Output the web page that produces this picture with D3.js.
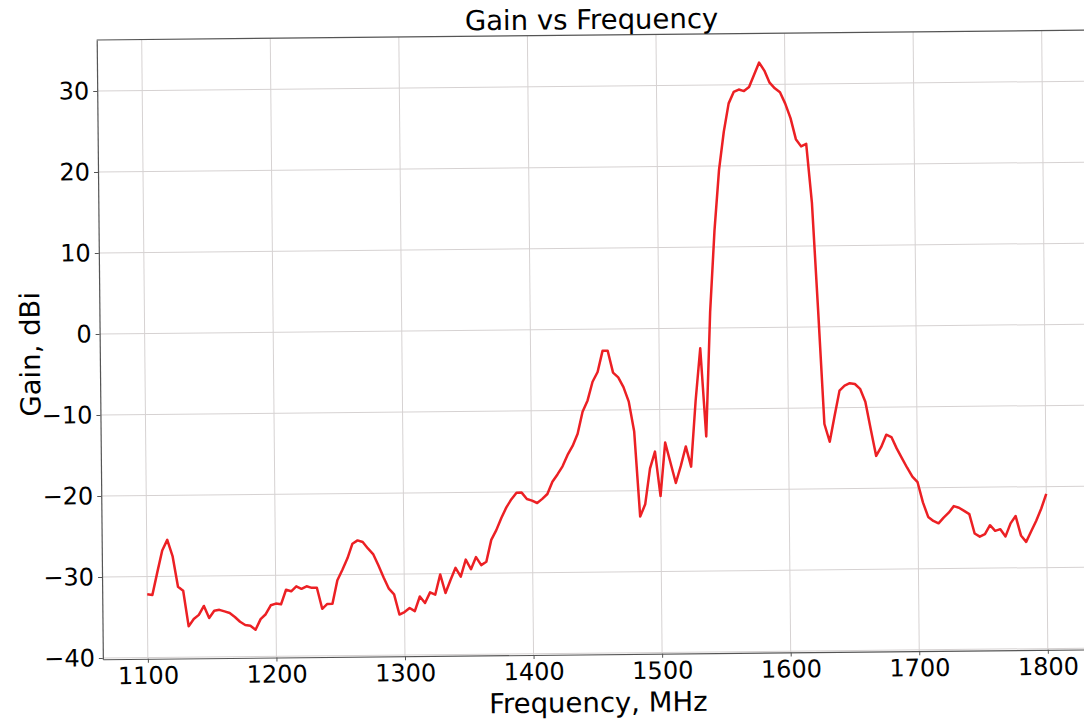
<!DOCTYPE html>
<html><head><meta charset="utf-8">
<script src="https://cdn.jsdelivr.net/npm/d3@7"></script>
<style>
body{margin:0;background:#fff}
svg{display:block}
text{font-family:"DejaVu Sans",sans-serif;fill:#000}
</style>
</head><body>
<svg id="chart" width="1084" height="721"></svg>
<script>
const frequencies = [
1100,1104,1108,1112,1116,1120,1124,1128,1132,1136,
1140,1144,1148,1152,1156,1160,1164,1168,1172,1176,
1180,1184,1188,1192,1196,1200,1204,1208,1212,1216,
1220,1224,1228,1232,1236,1240,1244,1248,1252,1256,
1260,1264,1268,1272,1276,1280,1284,1288,1292,1296,
1300,1304,1308,1312,1316,1320,1324,1328,1332,1336,
1340,1344,1348,1352,1356,1360,1364,1368,1372,1376,
1380,1384,1388,1392,1396,1400,1404,1408,1412,1416,
1420,1424,1428,1432,1436,1440,1444,1448,1452,1456,
1460,1464,1468,1472,1476,1480,1484,1488,1492,1496,
1500,1504,1508,1512,1516,1520,1524,1528,1532,1536,
1540,1544,1548,1552,1556,1560,1564,1568,1572,1576,
1580,1584,1588,1592,1596,1600,1604,1608,1612,1616,
1620,1624,1628,1632,1636,1640,1644,1648,1652,1656,
1660,1664,1668,1672,1676,1680,1684,1688,1692,1696,
1700,1704,1708,1712,1716,1720,1724,1728,1732,1736,
1740,1744,1748,1752,1756,1760,1764,1768,1772,1776,
1780,1784,1788,1792,1796,1800
];
const gainDbi = [
-32.2,-32.3,-29.5,-26.8,-25.5,-27.5,-31.3,-31.8,-36.2,-35.3,
-34.8,-33.7,-35.2,-34.3,-34.2,-34.4,-34.6,-35.1,-35.7,-36.1,
-36.2,-36.7,-35.4,-34.8,-33.7,-33.5,-33.6,-31.8,-32.0,-31.4,
-31.7,-31.4,-31.6,-31.6,-34.2,-33.6,-33.6,-30.7,-29.4,-28.0,
-26.2,-25.8,-26.0,-26.8,-27.5,-28.9,-30.4,-31.8,-32.5,-35.0,
-34.7,-34.2,-34.6,-32.8,-33.6,-32.3,-32.6,-30.1,-32.4,-30.8,
-29.3,-30.4,-28.3,-29.5,-28.0,-29.0,-28.6,-25.9,-24.7,-23.2,
-21.9,-20.9,-20.1,-20.1,-20.9,-21.1,-21.4,-20.9,-20.3,-18.8,
-17.9,-16.9,-15.5,-14.4,-12.9,-10.2,-8.8,-6.5,-5.3,-2.7,
-2.7,-5.4,-6.0,-7.2,-9.0,-12.7,-23.2,-21.7,-17.3,-15.2,
-20.7,-14.1,-16.6,-19.1,-17.0,-14.6,-17.1,-9.0,-2.5,-13.4,
2.0,12.0,19.5,24.2,27.7,29.1,29.4,29.2,29.7,31.2,
32.7,31.7,30.2,29.5,29.0,27.6,25.8,23.2,22.3,22.6,
15.3,2.0,-12.0,-14.2,-11.0,-7.9,-7.3,-7.0,-7.1,-7.7,
-9.3,-12.7,-16.0,-14.9,-13.4,-13.7,-15.1,-16.3,-17.5,-18.6,
-19.3,-21.8,-23.6,-24.1,-24.4,-23.7,-23.1,-22.3,-22.5,-22.9,
-23.3,-25.7,-26.1,-25.8,-24.7,-25.4,-25.2,-26.1,-24.5,-23.6,
-26.0,-26.8,-25.5,-24.2,-22.7,-20.9
];
const xTicks = [1100,1200,1300,1400,1500,1600,1700,1800];
const yTicks = [-40,-30,-20,-10,0,10,20,30];
const xDomain = [1065,1835];
const yDomain = [-40.16,36.3];
const titleText = "Gain vs Frequency";
const xLabelText = "Frequency, MHz";
const yLabelText = "Gain, dBi";

const W = 990, H = 619.3;
const svg = d3.select("#chart");
svg.append("rect").attr("width",1084).attr("height",721).attr("fill","#fff");
const g = svg.append("g").attr("transform","translate(96.7,40) rotate(-0.57)");

const x = d3.scaleLinear().domain(xDomain).range([0,W]);
const y = d3.scaleLinear().domain(yDomain).range([H,0]);

const gridColor = "#d6d2d2";
g.append("g").selectAll("line").data(xTicks).join("line")
  .attr("x1",d=>x(d)).attr("x2",d=>x(d)).attr("y1",0).attr("y2",H)
  .attr("stroke",gridColor).attr("stroke-width",1);
g.append("g").selectAll("line").data(yTicks).join("line")
  .attr("y1",d=>y(d)).attr("y2",d=>y(d)).attr("x1",0).attr("x2",W)
  .attr("stroke",gridColor).attr("stroke-width",1);

const line = d3.line().x((d,i)=>x(frequencies[i])).y(d=>y(d));
g.append("path").datum(gainDbi).attr("d",line)
  .attr("fill","none").attr("stroke","#ec2024").attr("stroke-width",2.5)
  .attr("stroke-linejoin","round");

const spine = "#555";
const xa = g.append("g").attr("transform",`translate(0,${H})`)
  .call(d3.axisBottom(x).tickValues(xTicks).tickSize(4).tickSizeOuter(0).tickPadding(4).tickFormat(d3.format("d")));
const ya = g.append("g")
  .call(d3.axisLeft(y).tickValues(yTicks).tickSize(4).tickSizeOuter(0).tickPadding(4).tickFormat(d3.format("d")));
[xa,ya].forEach(a=>{
  a.select(".domain").attr("stroke",spine).attr("stroke-width",1.2);
  a.selectAll(".tick line").attr("stroke",spine).attr("stroke-width",1);
  a.selectAll(".tick text").attr("font-size","24px").attr("font-family","DejaVu Sans").attr("fill","#000");
});
g.append("line").attr("x1",0).attr("x2",W).attr("y1",0).attr("y2",0).attr("stroke",spine).attr("stroke-width",1.2);
g.append("line").attr("x1",W).attr("x2",W).attr("y1",0).attr("y2",H).attr("stroke",spine).attr("stroke-width",1.2);

g.append("text").attr("x",x(1450)).attr("y",-6).attr("text-anchor","middle")
  .attr("font-size","27.5px").text(titleText);
g.append("text").attr("x",x(1450)).attr("y",677).attr("text-anchor","middle")
  .attr("font-size","27.5px").text(xLabelText);
g.append("text").attr("transform",`translate(-60,${H/2+4}) rotate(-90)`).attr("text-anchor","middle")
  .attr("font-size","27.5px").text(yLabelText);
</script>
</body></html>
